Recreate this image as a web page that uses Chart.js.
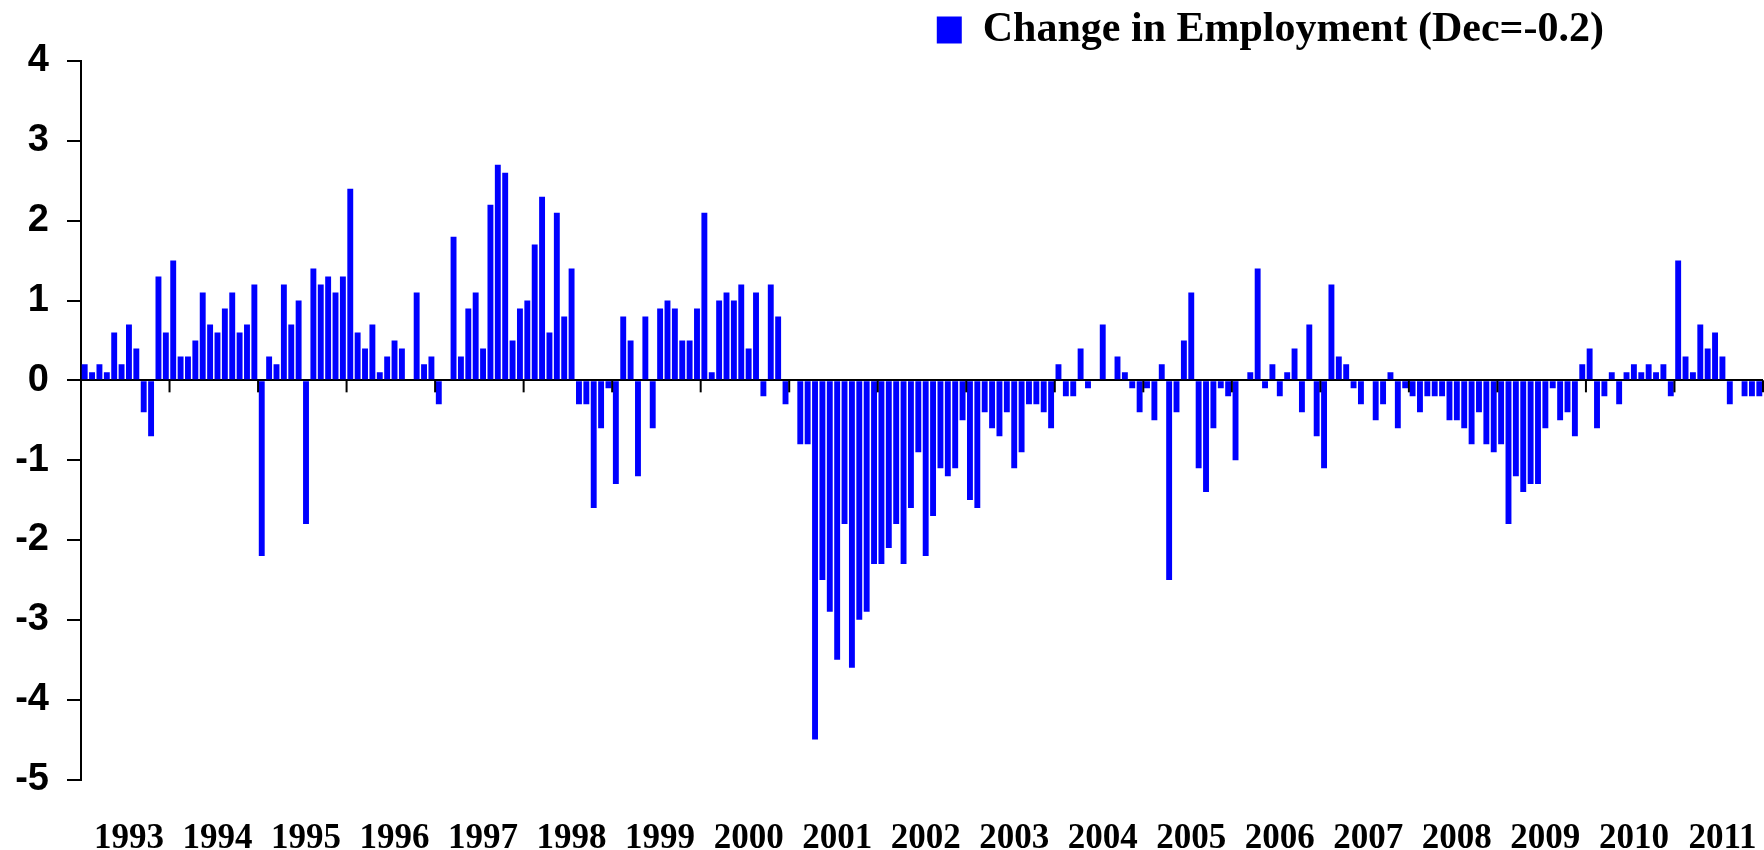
<!DOCTYPE html>
<html>
<head>
<meta charset="utf-8">
<script src="https://cdn.jsdelivr.net/npm/chart.js@4.4.0/dist/chart.umd.min.js"></script>
<style>
  html, body { margin: 0; padding: 0; background: #fff; }
  #wrap { width: 1764px; height: 850px; }
</style>
</head>
<body>
<div id="wrap"><canvas id="employment_chart"></canvas></div>
<script>
var years = ['1993', '1994', '1995', '1996', '1997', '1998', '1999', '2000', '2001', '2002',
             '2003', '2004', '2005', '2006', '2007', '2008', '2009', '2010', '2011'];

// monthly change in employment, Jan..Dec of each year
var v1993 = [0.2, 0.1, 0.2, 0.1, 0.6, 0.2, 0.7, 0.4, -0.4, -0.7, 1.3, 0.6];
var v1994 = [1.5, 0.3, 0.3, 0.5, 1.1, 0.7, 0.6, 0.9, 1.1, 0.6, 0.7, 1.2];
var v1995 = [-2.2, 0.3, 0.2, 1.2, 0.7, 1.0, -1.8, 1.4, 1.2, 1.3, 1.1, 1.3];
var v1996 = [2.4, 0.6, 0.4, 0.7, 0.1, 0.3, 0.5, 0.4, 0, 1.1, 0.2, 0.3];
var v1997 = [-0.3, 0, 1.8, 0.3, 0.9, 1.1, 0.4, 2.2, 2.7, 2.6, 0.5, 0.9];
var v1998 = [1.0, 1.7, 2.3, 0.6, 2.1, 0.8, 1.4, -0.3, -0.3, -1.6, -0.6, -0.1];
var v1999 = [-1.3, 0.8, 0.5, -1.2, 0.8, -0.6, 0.9, 1.0, 0.9, 0.5, 0.5, 0.9];
var v2000 = [2.1, 0.1, 1.0, 1.1, 1.0, 1.2, 0.4, 1.1, -0.2, 1.2, 0.8, -0.3];
var v2001 = [0, -0.8, -0.8, -4.5, -2.5, -2.9, -3.5, -1.8, -3.6, -3.0, -2.9, -2.3];
var v2002 = [-2.3, -2.1, -1.8, -2.3, -1.6, -0.9, -2.2, -1.7, -1.1, -1.2, -1.1, -0.5];
var v2003 = [-1.5, -1.6, -0.4, -0.6, -0.7, -0.4, -1.1, -0.9, -0.3, -0.3, -0.4, -0.6];
var v2004 = [0.2, -0.2, -0.2, 0.4, -0.1, 0, 0.7, 0, 0.3, 0.1, -0.1, -0.4];
var v2005 = [-0.1, -0.5, 0.2, -2.5, -0.4, 0.5, 1.1, -1.1, -1.4, -0.6, -0.1, -0.2];
var v2006 = [-1.0, 0, 0.1, 1.4, -0.1, 0.2, -0.2, 0.1, 0.4, -0.4, 0.7, -0.7];
var v2007 = [-1.1, 1.2, 0.3, 0.2, -0.1, -0.3, 0, -0.5, -0.3, 0.1, -0.6, -0.1];
var v2008 = [-0.2, -0.4, -0.2, -0.2, -0.2, -0.5, -0.5, -0.6, -0.8, -0.4, -0.8, -0.9];
var v2009 = [-0.8, -1.8, -1.2, -1.4, -1.3, -1.3, -0.6, -0.1, -0.5, -0.4, -0.7, 0.2];
var v2010 = [0.4, -0.6, -0.2, 0.1, -0.3, 0.1, 0.2, 0.1, 0.2, 0.1, 0.2, -0.2];
var v2011 = [1.5, 0.3, 0.1, 0.7, 0.4, 0.6, 0.3, -0.3, 0, -0.2, -0.2, -0.2];

var employment_change = [].concat(v1993, v1994, v1995, v1996, v1997, v1998, v1999, v2000,
  v2001, v2002, v2003, v2004, v2005, v2006, v2007, v2008, v2009, v2010, v2011);

var y_ticks = [4, 3, 2, 1, 0, -1, -2, -3, -4, -5];

var months = [];
for (var y = 0; y < years.length; y++) {
  for (var m = 1; m <= 12; m++) {
    months.push(years[y] + '-' + (m < 10 ? '0' + m : m));
  }
}

// small marks on the zero line between years, and legend pulled in from the right edge
var yearMarks = {
  id: 'yearMarks',
  afterLayout: function(chart) {
    chart.legend.right -= 152;
  },
  afterDatasetsDraw: function(chart) {
    var xs = chart.scales.x;
    var y0 = chart.scales.y.getPixelForValue(0);
    var half = (xs.getPixelForValue(1) - xs.getPixelForValue(0)) / 2;
    var ctx = chart.ctx;
    ctx.save();
    ctx.strokeStyle = '#000';
    ctx.lineWidth = 2;
    for (var i = 12; i <= months.length; i += 12) {
      var px = xs.getPixelForValue(i - 1) + half;
      ctx.beginPath();
      ctx.moveTo(px, y0);
      ctx.lineTo(px, y0 + 12);
      ctx.stroke();
    }
    ctx.restore();
  }
};

var ctx = document.getElementById('employment_chart');

var barGraph = new Chart(ctx, {
  type: 'bar',
  data: {
    labels: months,
    datasets: [{
      label: 'Change in Employment (Dec=-0.2)',
      data: employment_change,
      backgroundColor: '#0000ff',
      borderWidth: 0,
      barPercentage: 0.8,
      categoryPercentage: 1.0
    }]
  },
  options: {
    responsive: true,
    maintainAspectRatio: false,
    animation: false,
    layout: { padding: { left: 0, right: 1, top: 0, bottom: 0 } },
    plugins: {
      tooltip: { enabled: false },
      legend: {
        position: 'top',
        align: 'end',
        labels: {
          color: '#000',
          boxWidth: 25,
          boxHeight: 27,
          padding: 7,
          font: { family: 'Liberation Serif', weight: 'bold', size: 42 }
        }
      }
    },
    scales: {
      x: {
        grid: { display: false, drawTicks: false },
        border: { display: false },
        ticks: {
          autoSkip: false,
          maxRotation: 0,
          minRotation: 0,
          padding: 38,
          color: '#000',
          font: { family: 'Liberation Serif', weight: 'bold', size: 35 },
          callback: function(val, idx) {
            return idx % 12 === 6 ? years[Math.floor(idx / 12)] : '';
          }
        },
        afterFit: function(scale) {
          scale.height = 70.5;
          scale.paddingLeft = 0;
          scale.paddingRight = 0;
        }
      },
      y: {
        min: -5,
        max: 4,
        afterBuildTicks: function(scale) {
          scale.ticks = y_ticks.map(function(v) { return { value: v }; });
        },
        grid: {
          color: function(c) { return c.tick && c.tick.value === 0 ? '#000' : 'rgba(0,0,0,0)'; },
          lineWidth: 2,
          tickColor: '#000',
          tickLength: 14,
          tickWidth: 2
        },
        border: { display: true, color: '#000', width: 2 },
        ticks: {
          padding: 18,
          color: '#000',
          font: { family: 'Liberation Sans', weight: 'bold', size: 38 }
        },
        afterFit: function(scale) {
          scale.width = 81;
          scale.paddingTop = 61;
        }
      }
    }
  },
  plugins: [yearMarks]
});
</script>
</body>
</html>
